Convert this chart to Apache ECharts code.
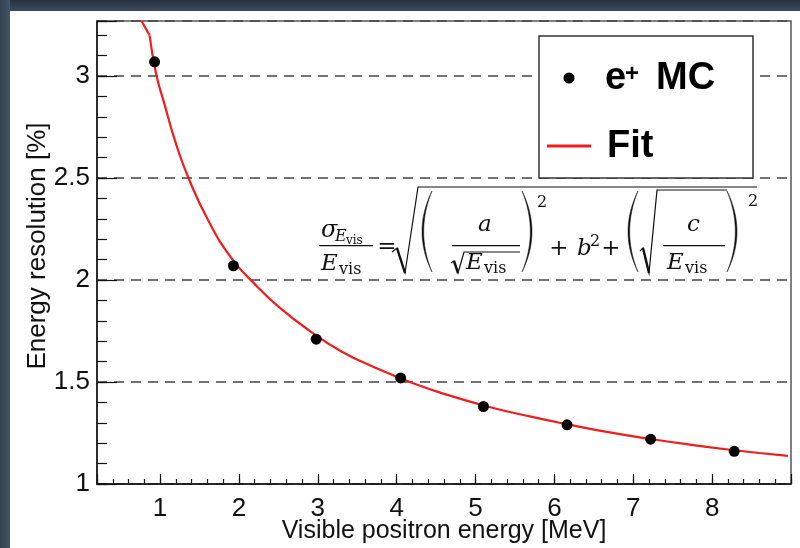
<!DOCTYPE html>
<html>
<head>
<meta charset="utf-8">
<title>Energy resolution</title>
<script src="https://cdn.jsdelivr.net/npm/echarts@6/dist/echarts.min.js"></script>
<style>
  html, body { margin: 0; padding: 0; background: #fff; }
  #chart { width: 800px; height: 548px; }
</style>
</head>
<body>
<div id="chart"></div>
<script>
// Monte Carlo positron samples: visible energy [MeV] and resolution [%]
const mcEnergy = [0.93, 1.93, 2.98, 4.05, 5.10, 6.16, 7.22, 8.28];
const mcResolution = [3.07, 2.07, 1.71, 1.52, 1.38, 1.29, 1.22, 1.16];

// Fitted resolution curve, sampled along the energy range
const fitEnergy = [0.867, 0.95, 1.05, 1.2, 1.35, 1.6, 1.9, 2.2, 2.5, 2.9, 3.3, 3.7, 4.2, 4.7, 5.2, 5.7, 6.2, 6.7, 7.2, 7.7, 8.2, 8.6, 8.96];
const fitResolution = [3.20, 3.01, 2.87, 2.67, 2.51, 2.30, 2.11, 1.98, 1.87, 1.75, 1.65, 1.575, 1.495, 1.43, 1.375, 1.33, 1.29, 1.253, 1.222, 1.194, 1.169, 1.152, 1.138];
// first (coarse) segment of the fit curve, up to the top of the frame
const fitTopEnergy = [0.765, 0.867];
const fitTopResolution = [3.27, 3.20];

// Tick labels
const xTickLabels = ['1', '2', '3', '4', '5', '6', '7', '8'];
const yTickLabels = ['1', '1.5', '2', '2.5', '3'];

const chart = echarts.init(document.getElementById('chart'), null, { renderer: 'canvas' });

const SANS = '"Liberation Sans", Arial, sans-serif';
const SERIF = '"DejaVu Serif", serif';
const FIT_RED = '#f21c1c';

// ---- helpers for the formula glyphs ----
function glyph(str, x, baseline, size, italic, align) {
  return {
    type: 'text', x: x, y: baseline - 0.346 * size, z: 50,
    style: {
      text: str, fill: '#111',
      font: (italic ? 'italic ' : '') + size + 'px ' + SERIF,
      align: align || 'left', verticalAlign: 'middle'
    }
  };
}
function bar(x1, x2, y) {
  return { type: 'line', z: 50, shape: { x1: x1, y1: y, x2: x2, y2: y }, style: { stroke: '#111', lineWidth: 1.3 } };
}
function radical(pts, downFrom, downTo) {
  return [
    { type: 'polyline', z: 50, shape: { points: pts }, style: { stroke: '#111', lineWidth: 1.2, fill: null } },
    { type: 'line', z: 50, shape: { x1: downFrom[0], y1: downFrom[1], x2: downTo[0], y2: downTo[1] }, style: { stroke: '#111', lineWidth: 2.4 } }
  ];
}
// crescent-shaped bracket as a polygon; ends at xe, bulge towards xb
function paren(xe, xb, yt, yb, thick) {
  const ym = (yt + yb) / 2;
  const dir = xb < xe ? 1 : -1;
  const c1 = 2 * xb - xe;
  const c2 = 2 * (xb + dir * thick) - xe;
  const pts = [];
  const n = 24;
  for (let i = 0; i <= n; i++) {
    const t = i / n, u = 1 - t;
    pts.push([u * u * xe + 2 * u * t * c1 + t * t * xe, u * u * yt + 2 * u * t * ym + t * t * yb]);
  }
  for (let i = n - 1; i >= 1; i--) {
    const t = i / n, u = 1 - t;
    pts.push([u * u * xe + 2 * u * t * c2 + t * t * xe, u * u * yt + 2 * u * t * ym + t * t * yb]);
  }
  return { type: 'polygon', z: 50, shape: { points: pts }, style: { fill: '#111', stroke: '#111', lineWidth: 0.5 } };
}

const formula = [].concat(
  // sigma_{E_vis} / E_vis
  glyph('σ', 321, 239, 24, true),
  glyph('E', 335, 242, 16, true),
  glyph('vis', 346, 245, 12, false),
  bar(319, 373, 245.7),
  glyph('E', 321, 272, 23, true),
  glyph('vis', 339, 275, 16, false),
  glyph('=', 387, 255, 23, false, 'center'),
  // outer root
  radical([[392, 252], [397, 248], [405, 273], [418, 187], [757, 187]], [397, 248], [405, 273]),
  paren(432, 422, 191, 272, 1.7),
  glyph('a', 478, 233, 23, true),
  bar(452, 520, 245.7),
  radical([[451, 263], [454, 261], [458, 273], [464, 252], [520, 252]], [454, 261], [458, 273]),
  glyph('E', 466, 271, 23, true),
  glyph('vis', 484, 274, 16, false),
  paren(522, 532, 191, 272, 1.7),
  glyph('2', 537, 208, 16, false),
  glyph('+', 559, 257, 23, false, 'center'),
  glyph('b', 577, 257, 23, true),
  glyph('2', 590, 247, 16, false),
  glyph('+', 611, 257, 23, false, 'center'),
  paren(638, 628, 191, 272, 1.7),
  radical([[640, 251], [643, 248], [649, 273], [657, 190], [727, 190]], [643, 248], [649, 273]),
  glyph('c', 687, 233, 23, true),
  bar(663, 725, 245.7),
  glyph('E', 667, 271, 23, true),
  glyph('vis', 685, 274, 16, false),
  paren(727, 737, 191, 272, 1.7),
  glyph('2', 748, 207, 16, false)
);

// ---- legend box ----
const legendBox = [
  { type: 'rect', z: 40, shape: { x: 539, y: 36, width: 214, height: 142 }, style: { fill: '#fff', stroke: '#333', lineWidth: 1.5 } },
  { type: 'circle', z: 41, shape: { cx: 569, cy: 78, r: 5.5 }, style: { fill: '#000' } },
  { type: 'text', z: 41, x: 605, y: 92 - 0.3465 * 38, style: { text: 'e', font: 'bold 38px ' + SANS, fill: '#000', align: 'left', verticalAlign: 'middle' } },
  { type: 'text', z: 41, x: 625, y: 83 - 0.3465 * 24, style: { text: '+', font: 'bold 24px ' + SANS, fill: '#000', align: 'left', verticalAlign: 'middle' } },
  { type: 'text', z: 41, x: 656, y: 92 - 0.3465 * 38, style: { text: 'MC', font: 'bold 38px ' + SANS, fill: '#000', align: 'left', verticalAlign: 'middle' } },
  { type: 'line', z: 41, shape: { x1: 547, y1: 146, x2: 591, y2: 146 }, style: { stroke: FIT_RED, lineWidth: 3 } },
  { type: 'text', z: 41, x: 607, y: 160 - 0.3465 * 38, style: { text: 'Fit', font: 'bold 38px ' + SANS, fill: '#000', align: 'left', verticalAlign: 'middle' } }
];

// ---- axis titles ----
const titles = [
  { type: 'text', z: 30, x: 444, y: 531, style: { text: 'Visible positron energy [MeV]', font: '25px ' + SANS, fill: '#111', align: 'center', verticalAlign: 'middle' } },
  { type: 'text', z: 30, x: 38, y: 246, rotation: Math.PI / 2, style: { text: 'Energy resolution [%]', font: '26px ' + SANS, fill: '#111', align: 'center', verticalAlign: 'middle' } }
];

// ---- dark window edge ----
const edge = [
  { type: 'rect', z: 200, shape: { x: 0, y: 0, width: 800, height: 11 },
    style: { fill: new echarts.graphic.LinearGradient(0, 0, 0, 1, [{ offset: 0, color: '#27313f' }, { offset: 1, color: '#3c4b60' }]) } },
  { type: 'rect', z: 200, shape: { x: 0, y: 0, width: 10, height: 548 },
    style: { fill: new echarts.graphic.LinearGradient(0, 0, 1, 0, [{ offset: 0, color: '#34414f' }, { offset: 1, color: '#44546a' }]) } }
];

function isNear(v, labels) {
  for (const s of labels) { if (Math.abs(v - parseFloat(s)) < 1e-6) return s; }
  return '';
}

const tickLabelStyle = { color: '#111', fontSize: 26, fontFamily: SANS };

const option = {
  animation: false,
  backgroundColor: '#fff',
  grid: { left: 97, right: 9, top: 21, bottom: 64, show: true, borderColor: '#555', borderWidth: 1.5, backgroundColor: 'transparent' },
  xAxis: [
    {
      type: 'value', position: 'bottom', min: 0.2, max: 9.0, splitNumber: 9, minInterval: 1, maxInterval: 1,
      axisLine: { show: true, onZero: false, lineStyle: { color: '#111', width: 1.5 } },
      axisTick: { show: true, inside: true, length: 10, lineStyle: { color: '#111', width: 1.2 } },
      axisLabel: Object.assign({ margin: 12, formatter: v => isNear(v, xTickLabels) }, tickLabelStyle),
      splitLine: { show: false }
    },
    {
      type: 'value', position: 'bottom', min: 0.2, max: 9.0, interval: 0.2,
      axisLine: { show: false },
      axisTick: { show: true, inside: true, length: 5, lineStyle: { color: '#111', width: 1.2 } },
      axisLabel: { show: false },
      splitLine: { show: false }
    }
  ],
  yAxis: [
    {
      type: 'value', position: 'left', min: 1, max: 3.27, interval: 0.5,
      axisLine: { show: true, onZero: false, lineStyle: { color: '#111', width: 1.5 } },
      axisTick: { show: true, inside: true, length: 20, lineStyle: { color: '#111', width: 1.2 } },
      axisLabel: Object.assign({ margin: 7, formatter: v => isNear(v, yTickLabels) }, tickLabelStyle),
      splitLine: { show: true, lineStyle: { color: '#444', width: 1.5, type: [10, 7] } }
    },
    {
      type: 'value', position: 'left', min: 1, max: 3.27, interval: 0.1,
      axisLine: { show: false },
      axisTick: { show: true, inside: true, length: 10, lineStyle: { color: '#111', width: 1.2 } },
      axisLabel: { show: false },
      splitLine: { show: false }
    }
  ],
  series: [
    {
      name: 'Fit', type: 'line', xAxisIndex: 0, yAxisIndex: 0,
      data: fitEnergy.map((e, i) => [e, fitResolution[i]]),
      showSymbol: false, symbol: 'none', smooth: 0.5, clip: true,
      lineStyle: { color: FIT_RED, width: 2.2 }, z: 3
    },
    {
      name: 'Fit (top)', type: 'line', xAxisIndex: 0, yAxisIndex: 0,
      data: fitTopEnergy.map((e, i) => [e, fitTopResolution[i]]),
      showSymbol: false, symbol: 'none', smooth: false, clip: true,
      lineStyle: { color: FIT_RED, width: 2.2 }, z: 3
    },
    {
      name: 'e+ MC', type: 'scatter', xAxisIndex: 0, yAxisIndex: 0,
      data: mcEnergy.map((e, i) => [e, mcResolution[i]]),
      symbol: 'circle', symbolSize: 11,
      itemStyle: { color: '#000', opacity: 1 }, z: 4
    }
  ],
  graphic: { elements: [].concat(titles, formula, legendBox, edge) }
};

chart.setOption(option);
</script>
</body>
</html>
